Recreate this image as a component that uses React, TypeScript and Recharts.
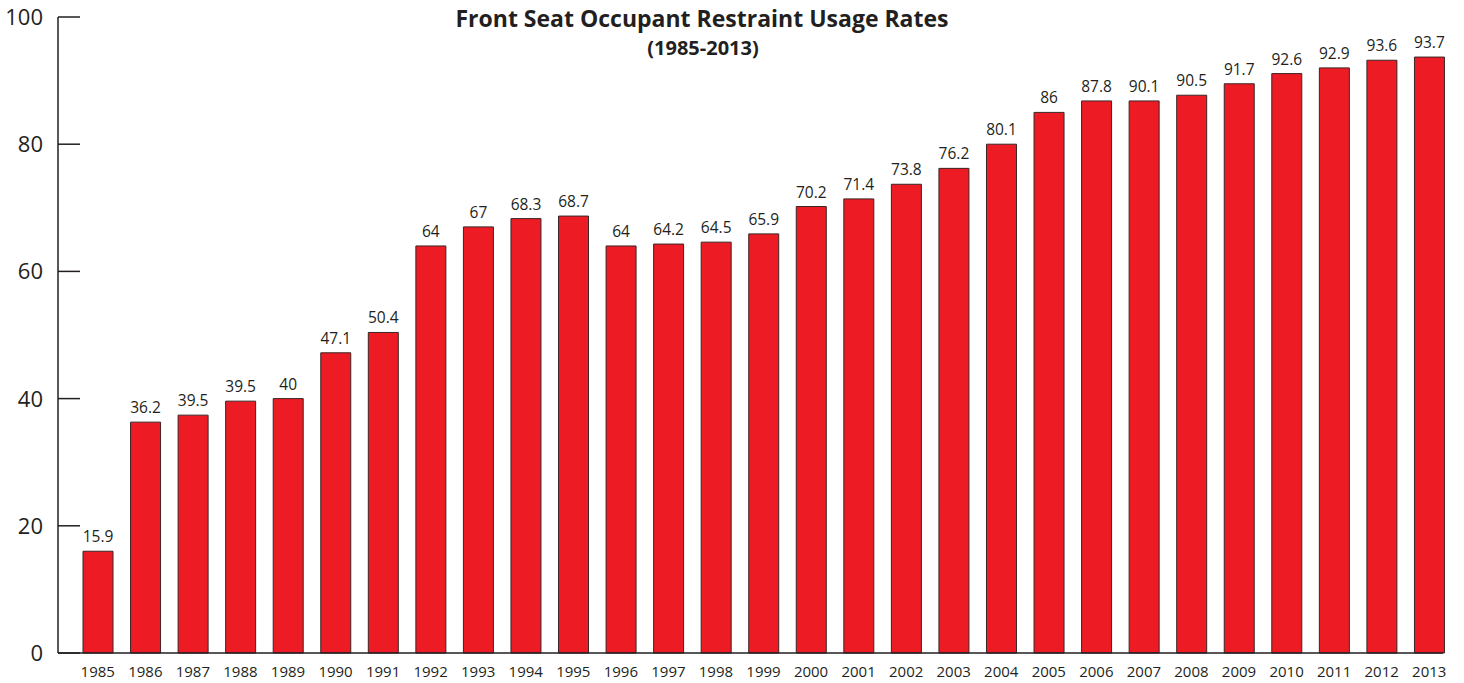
import { Bar, BarChart, LabelList, XAxis, YAxis } from 'recharts';

const years = [
  '1985', '1986', '1987', '1988', '1989', '1990', '1991', '1992', '1993', '1994',
  '1995', '1996', '1997', '1998', '1999', '2000', '2001', '2002', '2003', '2004',
  '2005', '2006', '2007', '2008', '2009', '2010', '2011', '2012', '2013',
];

// bar heights as drawn in the picture
const usage = [
  16.0, 36.3, 37.4, 39.6, 40.0, 47.2, 50.4, 64.0, 67.0, 68.3,
  68.7, 64.0, 64.3, 64.6, 65.9, 70.2, 71.4, 73.7, 76.2, 80.0,
  85.0, 86.8, 86.8, 87.7, 89.5, 91.1, 92.0, 93.2, 93.7,
];

// printed labels above the bars
const valueLabels = [
  '15.9', '36.2', '39.5', '39.5', '40', '47.1', '50.4', '64', '67', '68.3',
  '68.7', '64', '64.2', '64.5', '65.9', '70.2', '71.4', '73.8', '76.2', '80.1',
  '86', '87.8', '90.1', '90.5', '91.7', '92.6', '92.9', '93.6', '93.7',
];

const yTicks = [0, 20, 40, 60, 80, 100];

const data = years.map((year, i) => ({ year, usage: usage[i], label: valueLabels[i] }));

const FONT = '"Open Sans", "Noto Sans", sans-serif';
const INK = '#231F20';

const YTick = (props: any) => {
  const { x, y, payload } = props;
  return (
    <g>
      <line x1={x} x2={x + 22} y1={y} y2={y} stroke={INK} strokeWidth={1.5} />
      <text x={x - 15} y={y} dy="0.36em" textAnchor="end" fontSize={22} fill={INK} fontFamily={FONT}>
        {payload.value}
      </text>
    </g>
  );
};

export default function App() {
  return (
    <div style={{ position: 'absolute', left: 0, top: 0, width: 1464, height: 683, background: '#fff' }}>
      <BarChart
        width={1464}
        height={683}
        data={data}
        margin={{ top: 17, right: 21, left: 0, bottom: 0 }}
        barSize={30}
      >
        <text x={702} y={27} textAnchor="middle" fontSize={23} fontWeight="bold" fill={INK} fontFamily={FONT}>
          Front Seat Occupant Restraint Usage Rates
        </text>
        <text x={703} y={55} textAnchor="middle" fontSize={20} fontWeight="bold" fill={INK} fontFamily={FONT}>
          (1985-2013)
        </text>
        <XAxis
          dataKey="year"
          height={30}
          padding={{ left: 16, right: -10 }}
          axisLine={{ stroke: INK, strokeWidth: 1.5 }}
          tickLine={false}
          tickSize={0}
          tickMargin={13}
          interval={0}
          tick={{ fontSize: 15, fill: INK, fontFamily: FONT }}
        />
        <YAxis
          width={58}
          domain={[0, 100]}
          ticks={yTicks}
          axisLine={{ stroke: INK, strokeWidth: 1.5 }}
          tickLine={false}
          tickSize={0}
          tickMargin={0}
          tick={<YTick />}
        />
        <Bar dataKey="usage" fill="#ED1C24" stroke="#3A2526" strokeWidth={1} isAnimationActive={false}>
          <LabelList
            dataKey="label"
            position="top"
            offset={9}
            fontSize={15.5}
            fill={INK}
            fontFamily={FONT}
          />
        </Bar>
      </BarChart>
    </div>
  );
}
